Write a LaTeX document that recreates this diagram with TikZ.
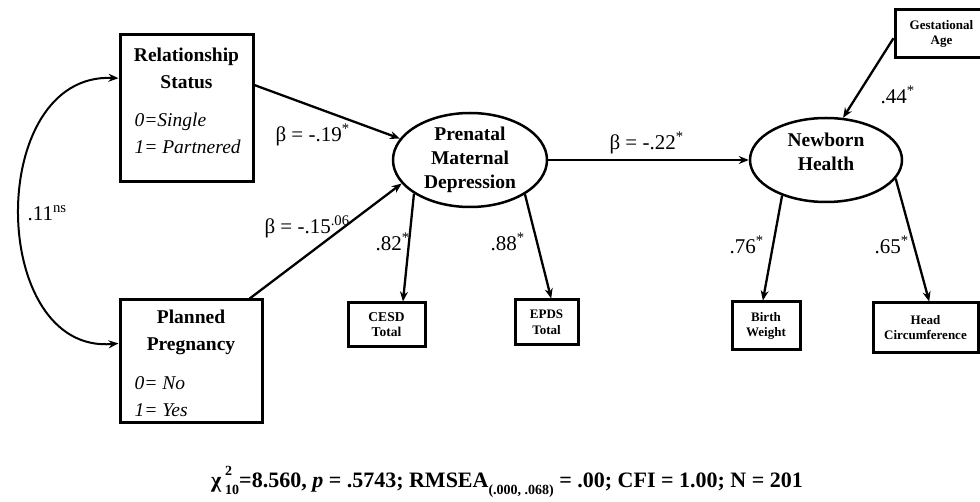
\documentclass[tikz,border=0pt]{standalone}
\usepackage{fontspec}
\setmainfont{Liberation Serif}
\usetikzlibrary{positioning,shapes.geometric,arrows.meta}

\begin{document}
\begin{tikzpicture}[x=1pt,y=-1pt,
    box/.style={rectangle,draw,line width=3pt,inner sep=0pt},
    ind/.style={rectangle,draw,line width=3pt,inner sep=0pt,align=center,font=\fontsize{13.5}{15}\selectfont\bfseries},
    latent/.style={ellipse,draw,line width=2.5pt,inner sep=0pt,align=center,font=\fontsize{19.5}{24}\selectfont\bfseries},
    title/.style={align=center,font=\fontsize{19.5}{27}\selectfont\bfseries},
    code/.style={anchor=west,align=left,font=\fontsize{19.5}{27}\selectfont\itshape},
    coef/.style={anchor=west,font=\fontsize{21}{21}\selectfont},
    arrow/.style={-{Stealth[length=10pt,width=8pt]},line width=2.3pt},
    biarrow/.style={{Stealth[length=10pt,width=8pt]}-{Stealth[length=10pt,width=8pt]},line width=2pt}]
    \useasboundingbox (0,0) rectangle (980,502);
    % predictors
    \node[box,minimum width=133,minimum height=147] (rel) at (186.5,108.5) {};
    \node[title] (relT) at (186.5,68.5) {Relationship\\Status};
    \node[code] (relC) at (131,133.5) {0=Single\\1= Partnered};
    \node[box,minimum width=142,minimum height=123] (pp) at (191,361.5) {};
    \node[title] (ppT) at (191,332.5) {Planned\\Pregnancy};
    \node[code] (ppC) at (131,397) {0= No\\1= Yes};
    % latent variables
    \node[latent,minimum width=154,minimum height=94] (pmd) at (470,160) {Prenatal\\Maternal\\Depression};
    \node[latent,minimum width=152,minimum height=84] (nh) at (826,160) {};
    \node[title,font=\fontsize{19.5}{24}\selectfont\bfseries] (nhT) at (826,152) {Newborn\\Health};
    % indicators
    \node[ind,minimum width=77,minimum height=44] (cesd) at (386.5,325) {CESD\\Total};
    \node[ind,minimum width=63,minimum height=45,font=\fontsize{13}{16}\selectfont\bfseries] (epds) at (546.5,322.5) {EPDS\\Total};
    \node[ind,minimum width=68,minimum height=48,font=\fontsize{13}{15}\selectfont\bfseries] (bw) at (766,326) {Birth\\Weight};
    \node[ind,minimum width=105,minimum height=50,font=\fontsize{13}{15}\selectfont\bfseries] (hc) at (925.5,328) {Head\\Circumference};
    \node[ind,minimum width=93,minimum height=48,font=\fontsize{13}{15}\selectfont\bfseries] (ga) at (941.5,34) {Gestational\\Age};
    % paths
    \draw[biarrow] (rel.156) .. controls (-15,72) and (-12,355) .. (pp.166);
    \draw[arrow] (rel.19.5) -- (pmd.163);
    \draw[arrow] (pp.47) -- (pmd.199.5);
    \draw[arrow] (pmd.east) -- (nh.west);
    \draw[arrow] (pmd.211) -- (cesd.55);
    \draw[arrow] (pmd.-32) -- (epds.79);
    \draw[arrow] (ga.185) -- (nh.68);
    \draw[arrow] (nh.219) -- (bw.97);
    \draw[arrow] (nh.-15) -- (hc.82);
    % coefficients
    \node[coef] (b1) at (272,135) {β = -.19\textsuperscript{*}};
    \node[coef] (b2) at (261,227) {β = -.15\textsuperscript{.06}};
    \node[coef] (r1) at (24,213) {.11\textsuperscript{ns}};
    \node[coef] (l1) at (372,242) {.82\textsuperscript{*}};
    \node[coef] (l2) at (487,242) {.88\textsuperscript{*}};
    \node[coef] (b3) at (606,143) {β = -.22\textsuperscript{*}};
    \node[coef] (g1) at (877,95) {.44\textsuperscript{*}};
    \node[coef] (l3) at (726,245) {.76\textsuperscript{*}};
    \node[coef] (l4) at (871,245) {.65\textsuperscript{*}};
    % fit
    \node[font=\fontsize{22}{22}\selectfont\bfseries] (fit) at (507,482) {χ\kern4pt\raisebox{12pt}{\fontsize{14}{14}\selectfont 2}\kern-7pt\raisebox{-7pt}{\fontsize{14}{14}\selectfont 10}=8.560, \textit{p} = .5743; RMSEA\raisebox{-7pt}{\fontsize{14}{14}\selectfont(.000, .068)} = .00; CFI = 1.00; N = 201};
\end{tikzpicture}
\end{document}
